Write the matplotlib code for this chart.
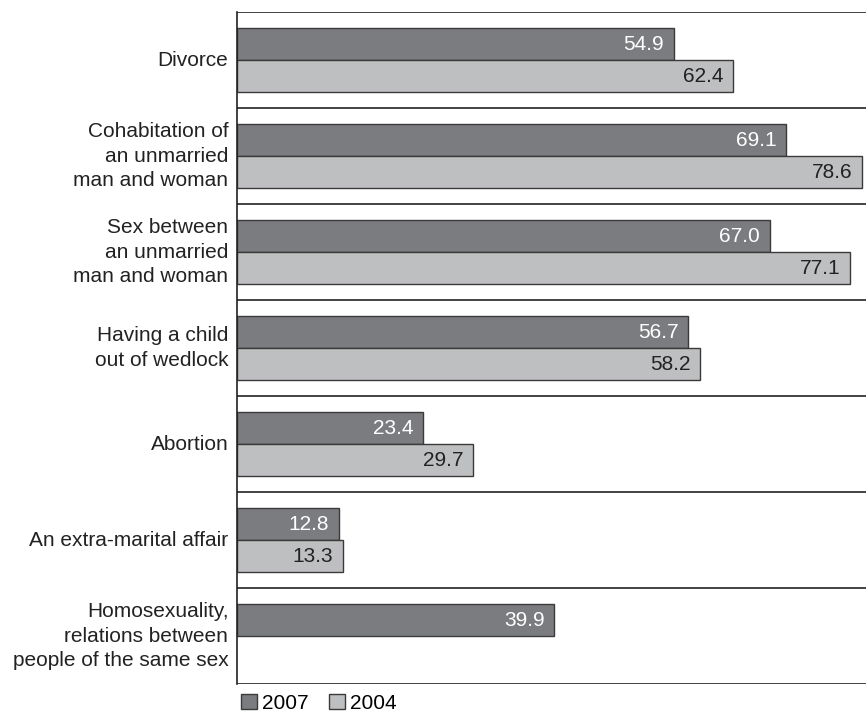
import matplotlib
matplotlib.use("Agg")
import matplotlib.pyplot as plt
from matplotlib.patches import Patch

plt.rcParams['font.family'] = ['Liberation Sans', 'DejaVu Sans']

categories = [
    "Divorce",
    "Cohabitation of\nan unmarried\nman and woman",
    "Sex between\nan unmarried\nman and woman",
    "Having a child\nout of wedlock",
    "Abortion",
    "An extra-marital affair",
    "Homosexuality,\nrelations between\npeople of the same sex",
]
values_2007 = [54.9, 69.1, 67.0, 56.7, 23.4, 12.8, 39.9]
values_2004 = [62.4, 78.6, 77.1, 58.2, 29.7, 13.3, None]
series_labels = ["2007", "2004"]

dark = "#7b7c7f"
light = "#bebfc1"
edge = "#3a3a3a"
line_col = "#222222"

fig = plt.figure(figsize=(8.66, 7.13), dpi=100)
ax = fig.add_axes([237 / 866, 29 / 713, 1 - 237 / 866, (684 - 12) / 713])

bar_h = 1 / 3
n = len(categories)
for i, (v7, v4) in enumerate(zip(values_2007, values_2004)):
    for off, v, col, tcol in ((1 / 3, v7, dark, "white"), (2 / 3, v4, light, "#222222")):
        if v is None:
            continue
        ax.barh(i + off, v, height=bar_h, color=col, edgecolor=edge, linewidth=1.0)
        ax.text(v - 1.2, i + off + 0.01, f"{v:.1f}", ha="right", va="center",
                fontsize=15, color=tcol)
    ax.text(-1.1, i + 0.5, categories[i], ha="right", va="center", fontsize=15,
            color="#222222", linespacing=1.37, clip_on=False)

for k in range(n + 1):
    ax.axhline(k, color=line_col, linewidth=1.2, zorder=3)

ax.set_xlim(0, 79.1)
ax.set_ylim(n, 0)
ax.set_xticks([])
ax.set_yticks([])
for s in ("top", "right", "bottom"):
    ax.spines[s].set_visible(False)
ax.spines["left"].set_color(line_col)
ax.spines["left"].set_linewidth(1.2)

handles = [Patch(facecolor=dark, edgecolor=edge, linewidth=1.0),
           Patch(facecolor=light, edgecolor=edge, linewidth=1.0)]
fig.legend(handles, series_labels, loc="upper left",
           bbox_to_anchor=(241 / 866, 1 - 694 / 713), ncol=2, frameon=False,
           fontsize=15, handlelength=0.75, handleheight=0.75, handletextpad=0.25,
           columnspacing=1.0, borderpad=0, borderaxespad=0)

fig.savefig("out.png", dpi=100)
